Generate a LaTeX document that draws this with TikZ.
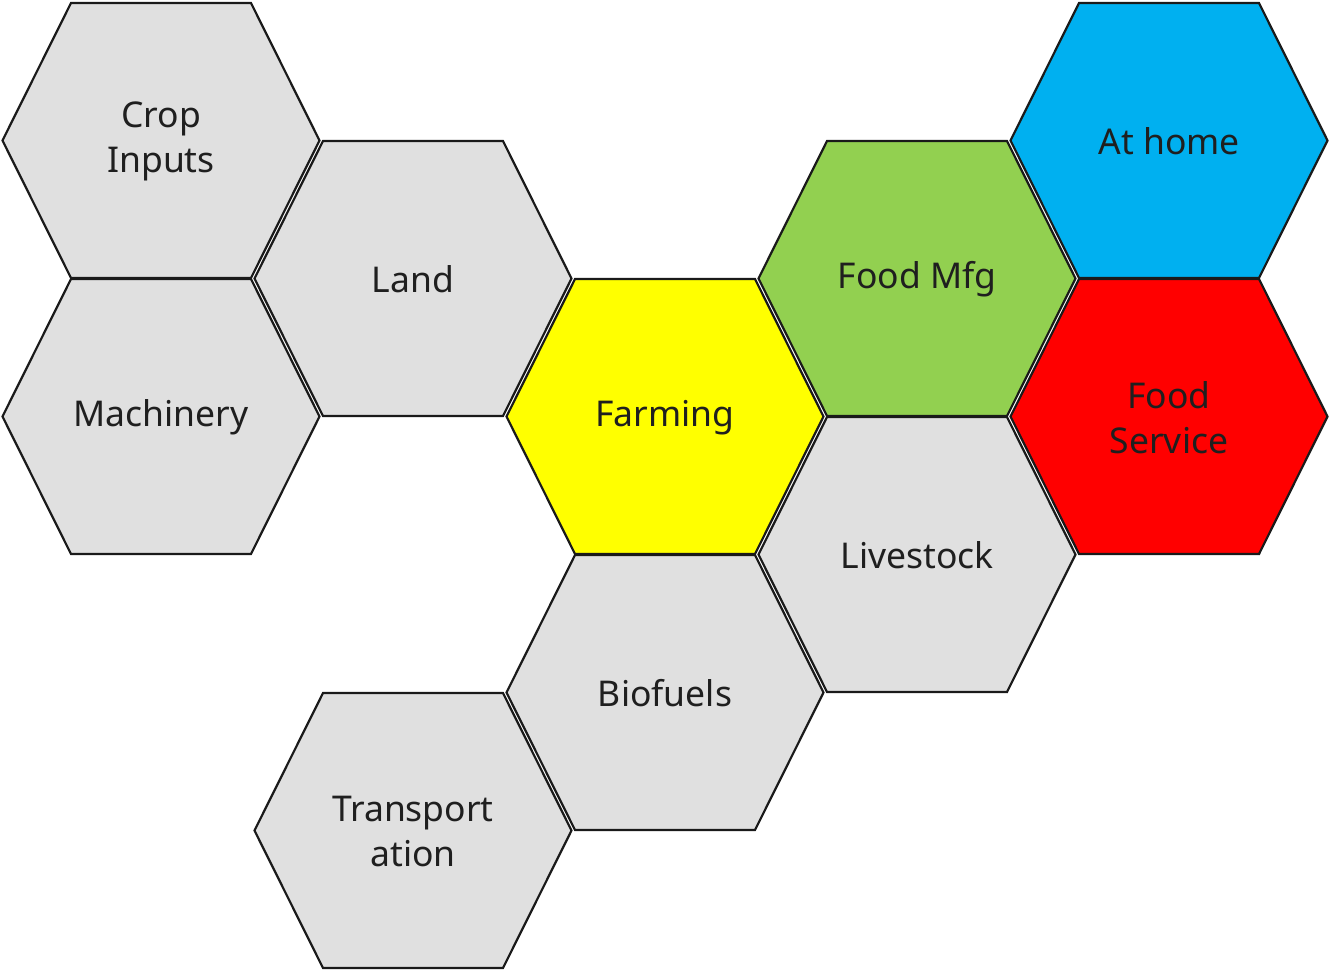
\documentclass[tikz,border=0pt]{standalone}
\usepackage{fontspec}
\setmainfont{Noto Sans}
\definecolor{cellgray}{HTML}{E0E0E0}
\definecolor{cellyellow}{HTML}{FFFF00}
\definecolor{cellgreen}{HTML}{92D050}
\definecolor{cellblue}{HTML}{00B0F0}
\definecolor{cellred}{HTML}{FF0000}
\definecolor{edge}{HTML}{1A1A1A}
\definecolor{ink}{HTML}{1F1F1F}

% one hexagonal cell: name, centre x, centre y, fill, label
\newcommand\hexcell[5]{%
  \draw[hexline,fill=#4] (#2-158.5,#3) -- (#2-90,#3-137.5) -- (#2+90,#3-137.5)
    -- (#2+158.5,#3) -- (#2+90,#3+137.5) -- (#2-90,#3+137.5) -- cycle;
  \node[hexlabel] (#1) at (#2,#3+1) {#5};}

\begin{document}
\begin{tikzpicture}[x=1pt,y=-1pt,
  hexline/.style={draw=edge,line width=2.2pt,line join=miter},
  hexlabel/.style={text=ink,align=center,font=\fontsize{35.5}{45}\selectfont}]
\useasboundingbox (0,0) rectangle (1330,970);
\hexcell{crop}{161}{140.5}{cellgray}{Crop\\Inputs}
\hexcell{machinery}{161}{416.5}{cellgray}{Machinery}
\hexcell{land}{413}{278.5}{cellgray}{Land}
\hexcell{transport}{413}{830.5}{cellgray}{Transport\\ation}
\hexcell{farming}{665}{416.5}{cellyellow}{Farming}
\hexcell{biofuels}{665}{692.5}{cellgray}{Biofuels}
\hexcell{foodmfg}{917}{278.5}{cellgreen}{Food Mfg}
\hexcell{livestock}{917}{554.5}{cellgray}{Livestock}
\hexcell{athome}{1169}{140.5}{cellblue}{At home}
\hexcell{foodservice}{1169}{416.5}{cellred}{Food\\Service}
\end{tikzpicture}
\end{document}
